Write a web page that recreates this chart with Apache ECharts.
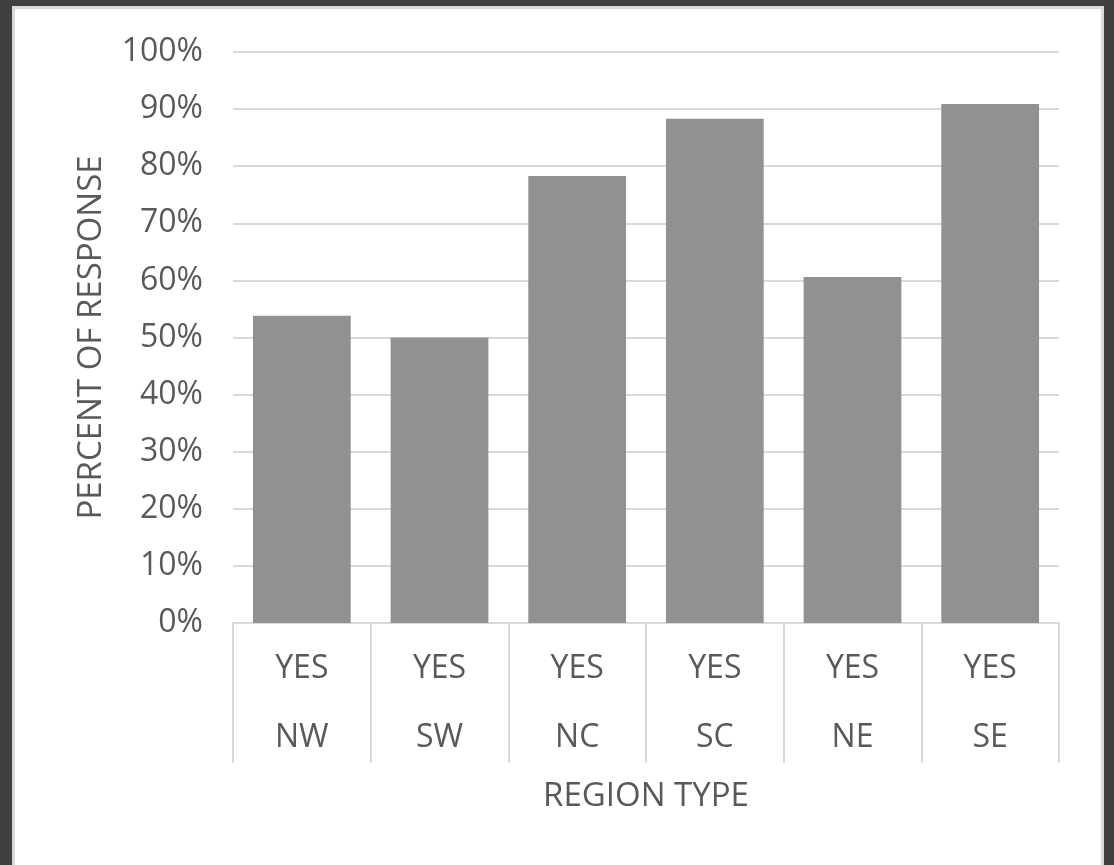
<!DOCTYPE html>
<html>
<head>
<meta charset="utf-8">
<script src="https://cdn.jsdelivr.net/npm/echarts@6/dist/echarts.min.js"></script>
<style>
  html, body { margin: 0; padding: 0; width: 1114px; height: 865px; overflow: hidden; background: #404040; }
  #frame { position: absolute; left: 12px; top: 6px; width: 1092px; height: 900px; box-sizing: border-box;
           background: #ffffff; border: 3px solid #d9d9d9; border-bottom: none; }
  #chart { position: absolute; left: 0; top: 0; width: 1114px; height: 865px; }
</style>
</head>
<body>
<div id="frame"></div>
<div id="chart"></div>
<script>
const answers = ['YES', 'YES', 'YES', 'YES', 'YES', 'YES'];
const regions = ['NW', 'SW', 'NC', 'SC', 'NE', 'SE'];
const percentYes = [53.8, 50.0, 78.3, 88.3, 60.6, 90.9];
const yTicks = { min: 0, max: 100, interval: 10 };
const xTitle = 'REGION TYPE';
const yTitle = 'PERCENT OF RESPONSE';

const categories = regions.map((r, i) => answers[i] + '\n' + r);
const textColor = '#595959';
const lineColor = '#d9d9d9';
const font = '"Open Sans", "Noto Sans", sans-serif';

const chart = echarts.init(document.getElementById('chart'), null, { renderer: 'canvas' });
chart.setOption({
  backgroundColor: 'transparent',
  animation: false,
  grid: { left: 233, right: 55, top: 52, bottom: 242, containLabel: false },
  xAxis: {
    type: 'category',
    data: categories,
    name: xTitle,
    nameLocation: 'middle',
    nameGap: 157,
    nameTextStyle: { color: textColor, fontSize: 33, fontFamily: font, lineHeight: 33 },
    axisLine: { show: true, lineStyle: { color: lineColor, width: 2 } },
    axisTick: { show: true, alignWithLabel: false, interval: 0, length: 140, lineStyle: { color: lineColor, width: 2 } },
    axisLabel: { interval: 0, margin: 11, color: textColor, fontSize: 32, fontFamily: font, lineHeight: 69 },
    splitLine: { show: false }
  },
  yAxis: {
    type: 'value',
    min: yTicks.min,
    max: yTicks.max,
    interval: yTicks.interval,
    name: yTitle,
    nameLocation: 'middle',
    nameGap: 125,
    nameRotate: 90,
    nameTextStyle: { color: textColor, fontSize: 33, fontFamily: font, lineHeight: 33 },
    axisLine: { show: false },
    axisTick: { show: false },
    axisLabel: { formatter: '{value}%', margin: 30, color: textColor, fontSize: 32, fontFamily: font },
    splitLine: { show: true, lineStyle: { color: lineColor, width: 2 } }
  },
  series: [{
    type: 'bar',
    data: percentYes,
    barCategoryGap: '29%',
    itemStyle: { color: '#919191' },
    emphasis: { disabled: true }
  }]
});
</script>
</body>
</html>
